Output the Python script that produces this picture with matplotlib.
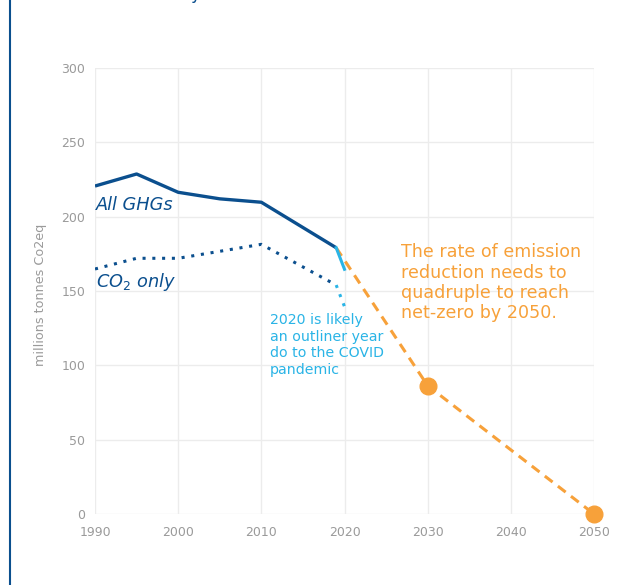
import matplotlib
matplotlib.use("Agg")
import matplotlib.pyplot as plt
from matplotlib.lines import Line2D

# Data
ghg_years = [1990, 1995, 2000, 2005, 2010, 2019]
ghg_vals = [220.6, 228.7, 216.4, 212.0, 209.7, 179.1]
ghg_2020_years = [2019, 2020]
ghg_2020_vals = [179.1, 164.6]

co2_years = [1990, 1995, 2000, 2010, 2019]
co2_vals = [164.8, 172.0, 172.0, 181.4, 154.0]
co2_2020_years = [2019, 2020]
co2_2020_vals = [154.0, 139.5]

target_years = [2019, 2030, 2050]
target_vals = [179.1, 86.3, 0]
marker_years = [2030, 2050]
marker_vals = [86.3, 0]

x_ticks = [1990, 2000, 2010, 2020, 2030, 2040, 2050]
y_ticks = [0, 50, 100, 150, 200, 250, 300]

NAVY = "#0b4f8e"
LIGHT = "#2ab4e6"
ORANGE = "#f7a13a"
GREY = "#9a9a9a"

plt.rcParams['font.family'] = ['DejaVu Sans']

fig = plt.figure(figsize=(6.29, 5.85), dpi=100)
ax = fig.add_axes([95/629, 1-514/585, 499/629, 446/585])

ax.plot(target_years, target_vals, color=ORANGE, lw=2.2, ls=(0, (3.2, 2.2)), zorder=2)
ax.plot(marker_years, marker_vals, 'o', color=ORANGE, ms=12, zorder=4, clip_on=False)

ax.plot(ghg_years, ghg_vals, color=NAVY, lw=2.4, zorder=3, solid_capstyle='butt')
ax.plot(ghg_2020_years, ghg_2020_vals, color=LIGHT, lw=2.2, zorder=3)
ax.plot(co2_years, co2_vals, color=NAVY, lw=2.2, ls=(0, (1, 2.2)), zorder=3)
ax.plot(co2_2020_years, co2_2020_vals, color=LIGHT, lw=2.2, ls=(0, (1, 2.2)), zorder=3)

ax.set_xlim(1990, 2050)
ax.set_ylim(0, 300)
ax.set_xticks(x_ticks)
ax.set_yticks(y_ticks)
for s in ax.spines.values():
    s.set_visible(False)
ax.grid(True, color="#ececec", lw=1.0)
ax.set_axisbelow(True)
ax.tick_params(length=0, colors=GREY, labelsize=9, pad=7)
ax.tick_params(axis='x', pad=9)
ax.set_ylabel("millions tonnes Co2eq", color=GREY, fontsize=9.2, labelpad=9)
ax.yaxis.set_label_coords(-48/499, (514-295)/446)

ax.text(1990.1, 208, "All GHGs", color=NAVY, fontsize=12.8, style='italic', va='center', ha='left')
ax.text(1990.1, 156, "CO$_2$ only", color=NAVY, fontsize=12.8, style='italic', va='center', ha='left')
ax.text(2011.0, 135, "2020 is likely\nan outliner year\ndo to the COVID\npandemic",
        color=LIGHT, fontsize=10.2, va='top', ha='left', linespacing=1.22)
ax.text(2026.8, 182, "The rate of emission\nreduction needs to\nquadruple to reach\nnet-zero by 2050.",
        color=ORANGE, fontsize=12.6, va='top', ha='left', linespacing=1.16)

# left border line
fig.add_artist(Line2D([10/629, 10/629], [0, 1], color=NAVY, lw=1.5))
# cut-off title descender at top
fig.text(190/629, 1 + 1/585, "y", color=NAVY, fontsize=12, va='baseline', ha='left')

fig.savefig("out.png", dpi=100)
